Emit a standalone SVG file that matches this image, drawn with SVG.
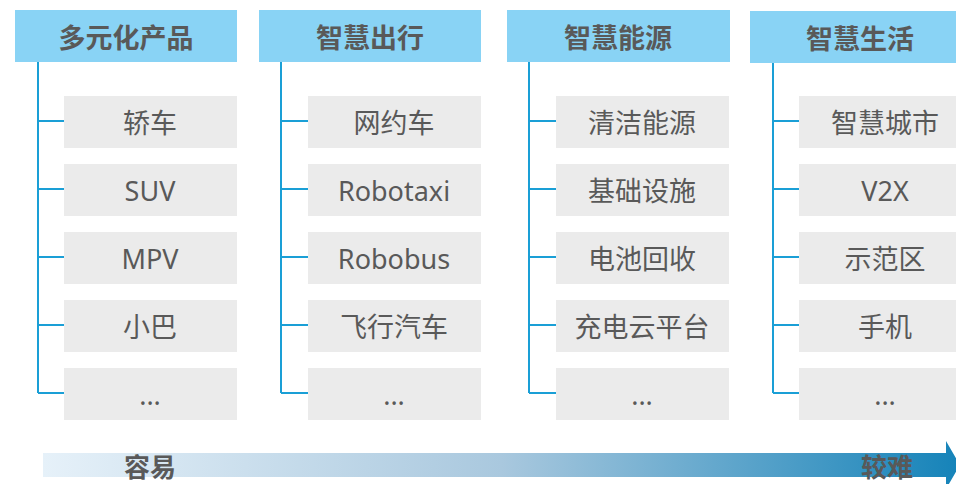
<svg xmlns="http://www.w3.org/2000/svg" width="956" height="484" viewBox="0 0 956 484">
<defs>
<linearGradient id="g" x1="0" y1="0" x2="1" y2="0">
<stop offset="0" stop-color="#e6f1f9"/>
<stop offset="0.5" stop-color="#a9c8de"/>
<stop offset="1" stop-color="#1583b9"/>
</linearGradient>
</defs>
<style>
.h{fill:#89d3f5}
.b{fill:#ebebeb}
.ht{font-family:"Noto Sans CJK SC","Noto Sans",sans-serif;font-weight:bold;font-size:27px;fill:#595959;text-anchor:middle;dominant-baseline:central}
.t{font-family:"Noto Sans","Noto Sans CJK SC",sans-serif;font-size:27px;fill:#595959;text-anchor:middle;dominant-baseline:central}
.c{stroke:#1a9fd6;stroke-width:2;fill:none}
</style>
<g id="arrow">
<path d="M43 453 H946 V441 L960 465 L946 489 V477 H43 Z" fill="url(#g)"/>
<text class="ht" x="150" y="465" style="font-size:26px">容易</text>
<text class="ht" x="887" y="465" style="font-size:26px">较难</text>
</g>
<g id="connectors">
<path class="c" d="M38 62 V393 M38 121 H64 M38 189 H64 M38 257 H64 M38 325 H64 M38 393 H64"/>
<path class="c" d="M281 62 V393 M281 121 H308 M281 189 H308 M281 257 H308 M281 325 H308 M281 393 H308"/>
<path class="c" d="M529 62 V393 M529 121 H556 M529 189 H556 M529 257 H556 M529 325 H556 M529 393 H556"/>
<path class="c" d="M773 62 V393 M773 121 H799 M773 189 H799 M773 257 H799 M773 325 H799 M773 393 H799"/>
</g>
<g id="h1"><rect class="h" x="15" y="10" width="222" height="52"/><text class="ht" x="126" y="36">多元化产品</text></g>
<g id="h2"><rect class="h" x="259" y="10" width="222" height="52"/><text class="ht" x="370" y="36">智慧出行</text></g>
<g id="h3"><rect class="h" x="507" y="10" width="223" height="52"/><text class="ht" x="618" y="36">智慧能源</text></g>
<g id="h4"><rect class="h" x="750" y="11" width="216" height="52"/><text class="ht" x="860" y="37">智慧生活</text></g>

<g id="c1i1"><rect class="b" x="64" y="96" width="173" height="52"/><text class="t" x="150" y="122">轿车</text></g>
<g id="c1i2"><rect class="b" x="64" y="164" width="173" height="52"/><text class="t" x="150" y="190">SUV</text></g>
<g id="c1i3"><rect class="b" x="64" y="232" width="173" height="52"/><text class="t" x="150" y="258">MPV</text></g>
<g id="c1i4"><rect class="b" x="64" y="300" width="173" height="52"/><text class="t" x="150" y="326">小巴</text></g>
<g id="c1i5"><rect class="b" x="64" y="368" width="173" height="52"/><text class="t" x="150" y="394">...</text></g>

<g id="c2i1"><rect class="b" x="308" y="96" width="173" height="52"/><text class="t" x="394" y="122">网约车</text></g>
<g id="c2i2"><rect class="b" x="308" y="164" width="173" height="52"/><text class="t" x="394" y="190">Robotaxi</text></g>
<g id="c2i3"><rect class="b" x="308" y="232" width="173" height="52"/><text class="t" x="394" y="258">Robobus</text></g>
<g id="c2i4"><rect class="b" x="308" y="300" width="173" height="52"/><text class="t" x="394" y="326">飞行汽车</text></g>
<g id="c2i5"><rect class="b" x="308" y="368" width="173" height="52"/><text class="t" x="394" y="394">...</text></g>

<g id="c3i1"><rect class="b" x="556" y="96" width="173" height="52"/><text class="t" x="642" y="122">清洁能源</text></g>
<g id="c3i2"><rect class="b" x="556" y="164" width="173" height="52"/><text class="t" x="642" y="190">基础设施</text></g>
<g id="c3i3"><rect class="b" x="556" y="232" width="173" height="52"/><text class="t" x="642" y="258">电池回收</text></g>
<g id="c3i4"><rect class="b" x="556" y="300" width="173" height="52"/><text class="t" x="642" y="326">充电云平台</text></g>
<g id="c3i5"><rect class="b" x="556" y="368" width="173" height="52"/><text class="t" x="642" y="394">...</text></g>

<g id="c4i1"><rect class="b" x="799" y="96" width="157" height="52"/><text class="t" x="885" y="122">智慧城市</text></g>
<g id="c4i2"><rect class="b" x="799" y="164" width="157" height="52"/><text class="t" x="885" y="190">V2X</text></g>
<g id="c4i3"><rect class="b" x="799" y="232" width="157" height="52"/><text class="t" x="885" y="258">示范区</text></g>
<g id="c4i4"><rect class="b" x="799" y="300" width="157" height="52"/><text class="t" x="885" y="326">手机</text></g>
<g id="c4i5"><rect class="b" x="799" y="368" width="157" height="52"/><text class="t" x="885" y="394">...</text></g>
</svg>
